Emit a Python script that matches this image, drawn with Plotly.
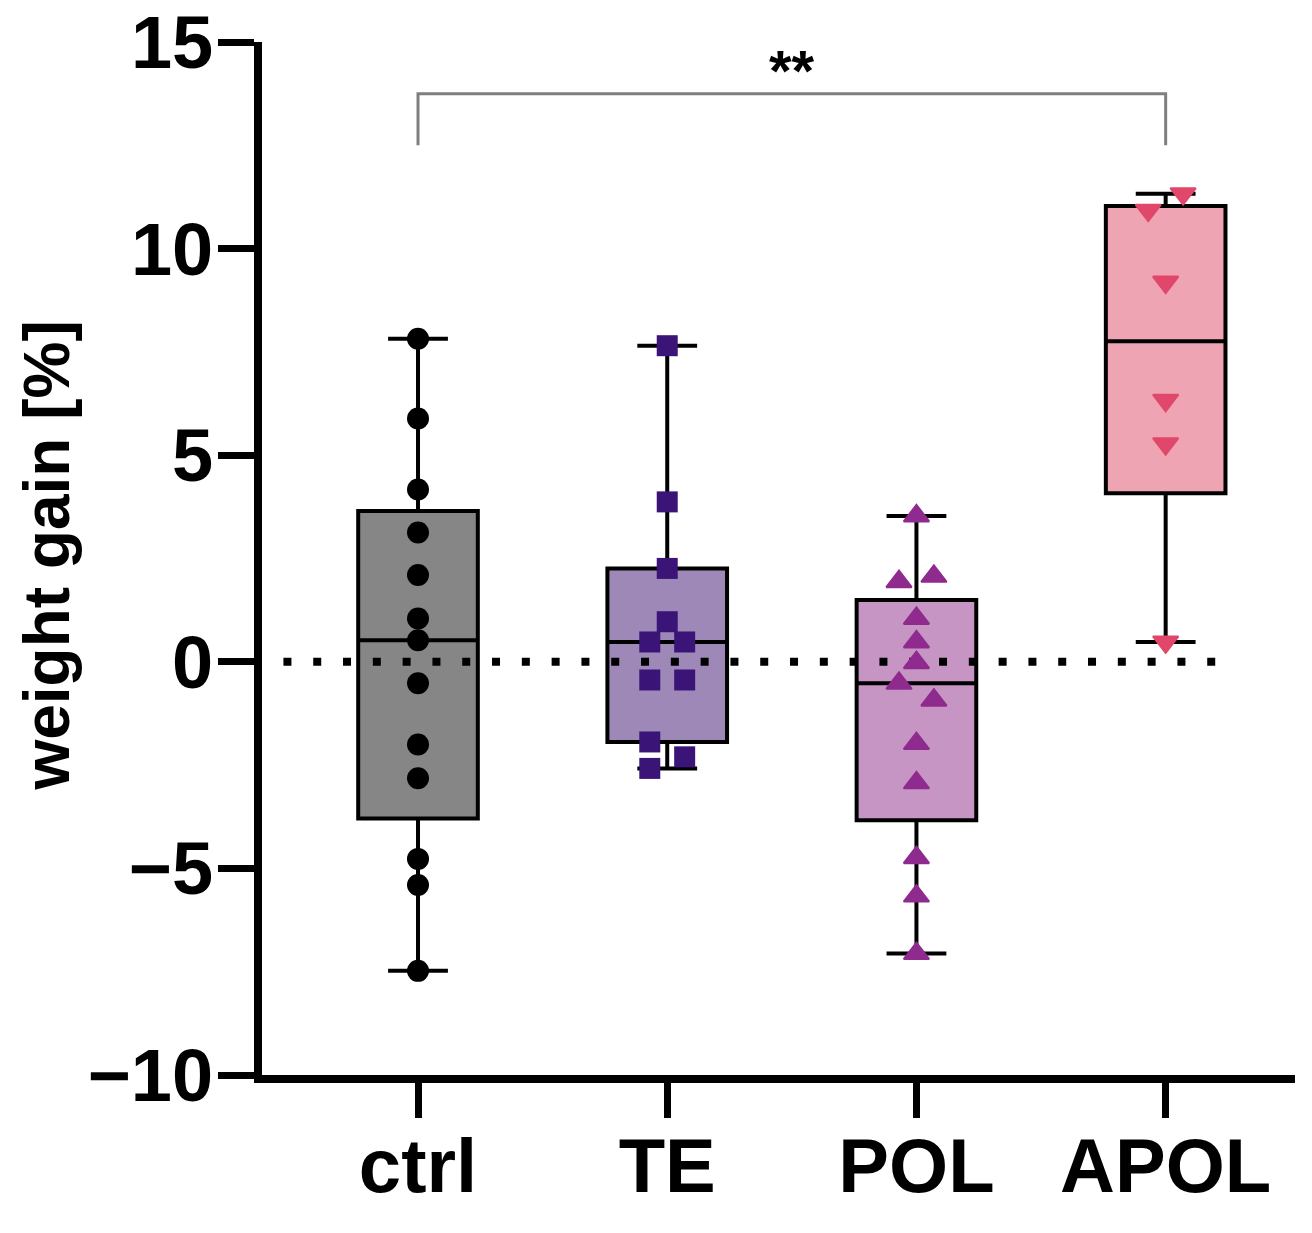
import numpy as np
import plotly.graph_objects as go

# ==========================================
# Data
# ==========================================
CATEGORIES = ['ctrl', 'TE', 'POL', 'APOL']

ctrl_gain = [7.82, 5.89, 4.17, 3.13, 2.10, 1.05, 0.52, -0.52, -2.00, -2.82, -4.77, -5.40, -7.48]
te_gain = [7.65, 3.87, 2.26, 0.97, 0.48, 0.48, -0.44, -0.44, -1.94, -2.30, -2.58]
pol_gain = [3.53, 2.07, 1.94, 1.05, 0.48, -0.02, -0.52, -0.93, -1.98, -2.93, -4.74, -5.67, -7.06]
apol_gain = [11.33, 10.93, 9.19, 6.33, 5.28, 0.48]

# side-by-side slot of each point (-1 left, 0 centre, 1 right), prism style scatter
ctrl_slot = [0, 0, 0, 0, 0, 0, 0, 0, 0, 0, 0, 0, 0]
te_slot = [0, 0, 0, 0, -1, 1, -1, 1, -1, 1, -1]
pol_slot = [0, 1, -1, 0, 0, 0, -1, 1, 0, 0, 0, 0, 0]
apol_slot = [1, -1, 0, 0, 0, 0]

Y_TICKS = [-10, -5, 0, 5, 10, 15]
Y_TITLE = 'weight gain [%]'
SIG_PAIR = ('ctrl', 'APOL')
SIG_TEXT = '**'

FONT = 'Liberation Sans, Arial, sans-serif'

groups = [
    (ctrl_gain, ctrl_slot, '#868686', '#000000', 'circle', 22, 0),
    (te_gain, te_slot, '#9e88b8', '#3b1478', 'square', 21, 0),
    (pol_gain, pol_slot, '#c695c4', '#8f2a8e', 'triangle-up', 22, 2),
    (apol_gain, apol_slot, '#efa4b4', '#e0476a', 'triangle-down', 22, 2),
]

BOX_W = 0.48
SLOT_DX = 0.07

fig = go.Figure()

# boxes: quartiles like prism ((n+1)p), whiskers min to max
for i, (vals, slots, fill, mcol, sym, msize, mline) in enumerate(groups):
    v = np.array(vals)
    q1, med, q3 = np.percentile(v, [25, 50, 75], method='weibull')
    fig.add_trace(go.Box(
        x=[i], q1=[q1], median=[med], q3=[q3],
        lowerfence=[v.min()], upperfence=[v.max()],
        width=BOX_W, whiskerwidth=0.5,
        fillcolor=fill, line=dict(color='black', width=4),
        boxpoints=False, showlegend=False, hoverinfo='skip'
    ))

# dotted zero line
fig.add_trace(go.Scatter(
    x=[-0.54, 3.24], y=[0, 0], mode='lines',
    line=dict(color='black', width=8, dash='8px,21.8px'),
    showlegend=False, hoverinfo='skip'
))

# individual points
for i, (vals, slots, fill, mcol, sym, msize, mline) in enumerate(groups):
    fig.add_trace(go.Scatter(
        x=[i + s * SLOT_DX for s in slots], y=vals, mode='markers',
        marker=dict(symbol=sym, size=msize, color=mcol, line=dict(width=mline, color=mcol)),
        showlegend=False
    ))

# significance bracket
a, b = CATEGORIES.index(SIG_PAIR[0]), CATEGORIES.index(SIG_PAIR[1])
fig.add_trace(go.Scatter(
    x=[a, a, b, b], y=[12.5, 13.75, 13.75, 12.5], mode='lines',
    line=dict(color='#7f7f7f', width=3), showlegend=False, hoverinfo='skip'
))
fig.add_annotation(
    x=(a + b) / 2, y=14.32, text=SIG_TEXT, showarrow=False,
    font=dict(family=FONT, size=58, color='black', weight='bold'), yanchor='middle'
)

# y axis title as rotated annotation (fixed place left of the tick labels)
fig.add_annotation(
    xref='paper', yref='paper', x=-0.208, y=0.503, text=Y_TITLE,
    textangle=-90, showarrow=False, xanchor='center', yanchor='middle',
    font=dict(family=FONT, size=64, color='black', weight='bold')
)

fig.update_xaxes(
    range=[-0.626, 3.519], tickvals=list(range(len(CATEGORIES))), ticktext=CATEGORIES,
    showline=True, linecolor='black', linewidth=8, automargin=False,
    ticks='outside', ticklen=35, tickwidth=7, tickcolor='black',
    showgrid=False, zeroline=False, ticklabelstandoff=-17,
    tickfont=dict(family=FONT, size=76, color='black', weight='bold')
)
fig.update_yaxes(
    range=[-10, 15], tickvals=Y_TICKS,
    showline=True, linecolor='black', linewidth=8, automargin=False,
    ticks='outside', ticklen=36, tickwidth=7, tickcolor='black',
    showgrid=False, zeroline=False, ticklabelstandoff=-10, ticklabeloverflow='allow',
    tickfont=dict(family=FONT, size=74, color='black', weight='bold')
)

fig.update_layout(
    width=1312, height=1233,
    margin=dict(l=262, r=17, t=42, b=158),
    plot_bgcolor='white', paper_bgcolor='white',
    font=dict(family=FONT, color='black')
)

# page has no body margin so the figure fills the window exactly
fig.write_html("out.html", config={'displayModeBar': False},
               post_script="document.body.style.margin = '0';")
